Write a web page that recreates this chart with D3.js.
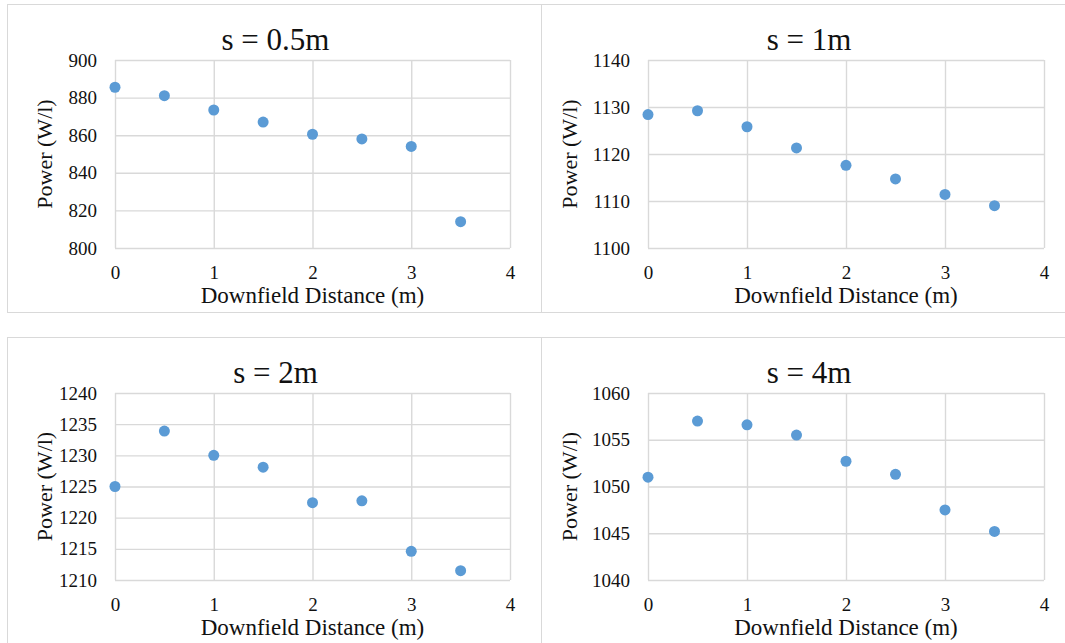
<!DOCTYPE html>
<html>
<head>
<meta charset="utf-8">
<script src="https://cdn.jsdelivr.net/npm/d3@7"></script>
<style>
  html, body { margin: 0; padding: 0; background: #fff; }
  svg { display: block; }
</style>
</head>
<body>
<svg id="chart" width="1065" height="643"></svg>
<script>
// ---- data ----
const distances = [0, 0.5, 1, 1.5, 2, 2.5, 3, 3.5];
const power_s05 = [885.5, 881.0, 873.4, 867.0, 860.5, 858.0, 854.0, 814.0];
const power_s1  = [1128.4, 1129.2, 1125.8, 1121.3, 1117.6, 1114.7, 1111.4, 1109.0];
const power_s2  = [1225.0, 1233.9, 1230.0, 1228.1, 1222.4, 1222.7, 1214.6, 1211.5];
const power_s4  = [1051.0, 1057.0, 1056.6, 1055.5, 1052.7, 1051.3, 1047.5, 1045.2];
const titles = ["s = 0.5m", "s = 1m", "s = 2m", "s = 4m"];
const xTickValues = [0, 1, 2, 3, 4];
const yTicks_s05 = [800, 820, 840, 860, 880, 900];
const yTicks_s1  = [1100, 1110, 1120, 1130, 1140];
const yTicks_s2  = [1210, 1215, 1220, 1225, 1230, 1235, 1240];
const yTicks_s4  = [1040, 1045, 1050, 1055, 1060];
const xLabel = "Downfield Distance (m)";
const yLabel = "Power (W/l)";

const series = [power_s05, power_s1, power_s2, power_s4];
const yTicks = [yTicks_s05, yTicks_s1, yTicks_s2, yTicks_s4];

// ---- layout ----
const FONT = "'Liberation Serif', 'Times New Roman', serif";
const svg = d3.select("#chart");
const gridColor = "#d9d9d9";
const dotColor = "#5B9BD5";

// panel frames
const frames = svg.append("g").attr("fill", "none").attr("stroke", gridColor).attr("stroke-width", 1);
frames.append("line").attr("x1", 7).attr("x2", 1065).attr("y1", 4.5).attr("y2", 4.5);
frames.append("line").attr("x1", 7.5).attr("x2", 7.5).attr("y1", 4).attr("y2", 312);
frames.append("line").attr("x1", 7).attr("x2", 1065).attr("y1", 312.5).attr("y2", 312.5);
frames.append("line").attr("x1", 541.5).attr("x2", 541.5).attr("y1", 4).attr("y2", 312);
frames.append("line").attr("x1", 7).attr("x2", 1065).attr("y1", 337.5).attr("y2", 337.5);
frames.append("line").attr("x1", 7.5).attr("x2", 7.5).attr("y1", 337).attr("y2", 643);
frames.append("line").attr("x1", 541.5).attr("x2", 541.5).attr("y1", 337).attr("y2", 643);

const plots = [
  {x0: 115, x1: 510, y0: 60, y1: 248, yTitleX: 45},
  {x0: 648, x1: 1044, y0: 60, y1: 248, yTitleX: 570},
  {x0: 115, x1: 510, y0: 393, y1: 580, yTitleX: 45},
  {x0: 648, x1: 1044, y0: 393, y1: 580, yTitleX: 570}
];

plots.forEach((p, i) => {
  const ticks = yTicks[i];
  const x = d3.scaleLinear().domain([0, 4]).range([p.x0, p.x1]);
  const y = d3.scaleLinear().domain([ticks[0], ticks[ticks.length - 1]]).range([p.y1, p.y0]);
  const g = svg.append("g");

  // horizontal grid + y labels
  const yAxis = g.append("g").attr("transform", `translate(${p.x0},0)`)
    .call(d3.axisLeft(y).tickValues(ticks).tickSize(-(p.x1 - p.x0)).tickPadding(18).tickFormat(d3.format("d")));
  yAxis.attr("font-family", null).attr("font-size", null);
  yAxis.select(".domain").remove();
  yAxis.selectAll(".tick line").attr("stroke", gridColor).attr("stroke-width", 1.4);
  yAxis.selectAll(".tick text").style("font-size", "19px").style("fill", "#111").style("font-family", FONT);

  // vertical grid + x labels
  const xAxis = g.append("g").attr("transform", `translate(0,${p.y1})`)
    .call(d3.axisBottom(x).tickValues(xTickValues).tickSize(-(p.y1 - p.y0)).tickPadding(18).tickFormat(d3.format("d")));
  xAxis.attr("font-family", null).attr("font-size", null);
  xAxis.select(".domain").remove();
  xAxis.selectAll(".tick line").attr("stroke", gridColor).attr("stroke-width", 1.4);
  xAxis.selectAll(".tick text").style("font-size", "19px").style("fill", "#111").style("font-family", FONT);

  // title
  g.append("text").attr("x", (p.x0 + p.x1) / 2 - 37).attr("y", p.y0 - 10)
    .attr("text-anchor", "middle").style("font-family", FONT).style("font-size", "31px").style("fill", "#111")
    .text(titles[i]);

  // x title
  g.append("text").attr("x", (p.x0 + p.x1) / 2).attr("y", p.y1 + 55)
    .attr("text-anchor", "middle").style("font-family", FONT).style("font-size", "23px").style("fill", "#111")
    .text(xLabel);

  // y title
  g.append("text")
    .attr("transform", `translate(${p.yTitleX + 7},${(p.y0 + p.y1) / 2}) rotate(-90)`)
    .attr("text-anchor", "middle").style("font-family", FONT).style("font-size", "22px").style("fill", "#111")
    .text(yLabel);

  // points
  g.append("g").selectAll("circle").data(distances.map((d, k) => [d, series[i][k]]))
    .join("circle")
    .attr("cx", d => x(d[0])).attr("cy", d => y(d[1]))
    .attr("r", 5.5).attr("fill", dotColor);
});
</script>
</body>
</html>
